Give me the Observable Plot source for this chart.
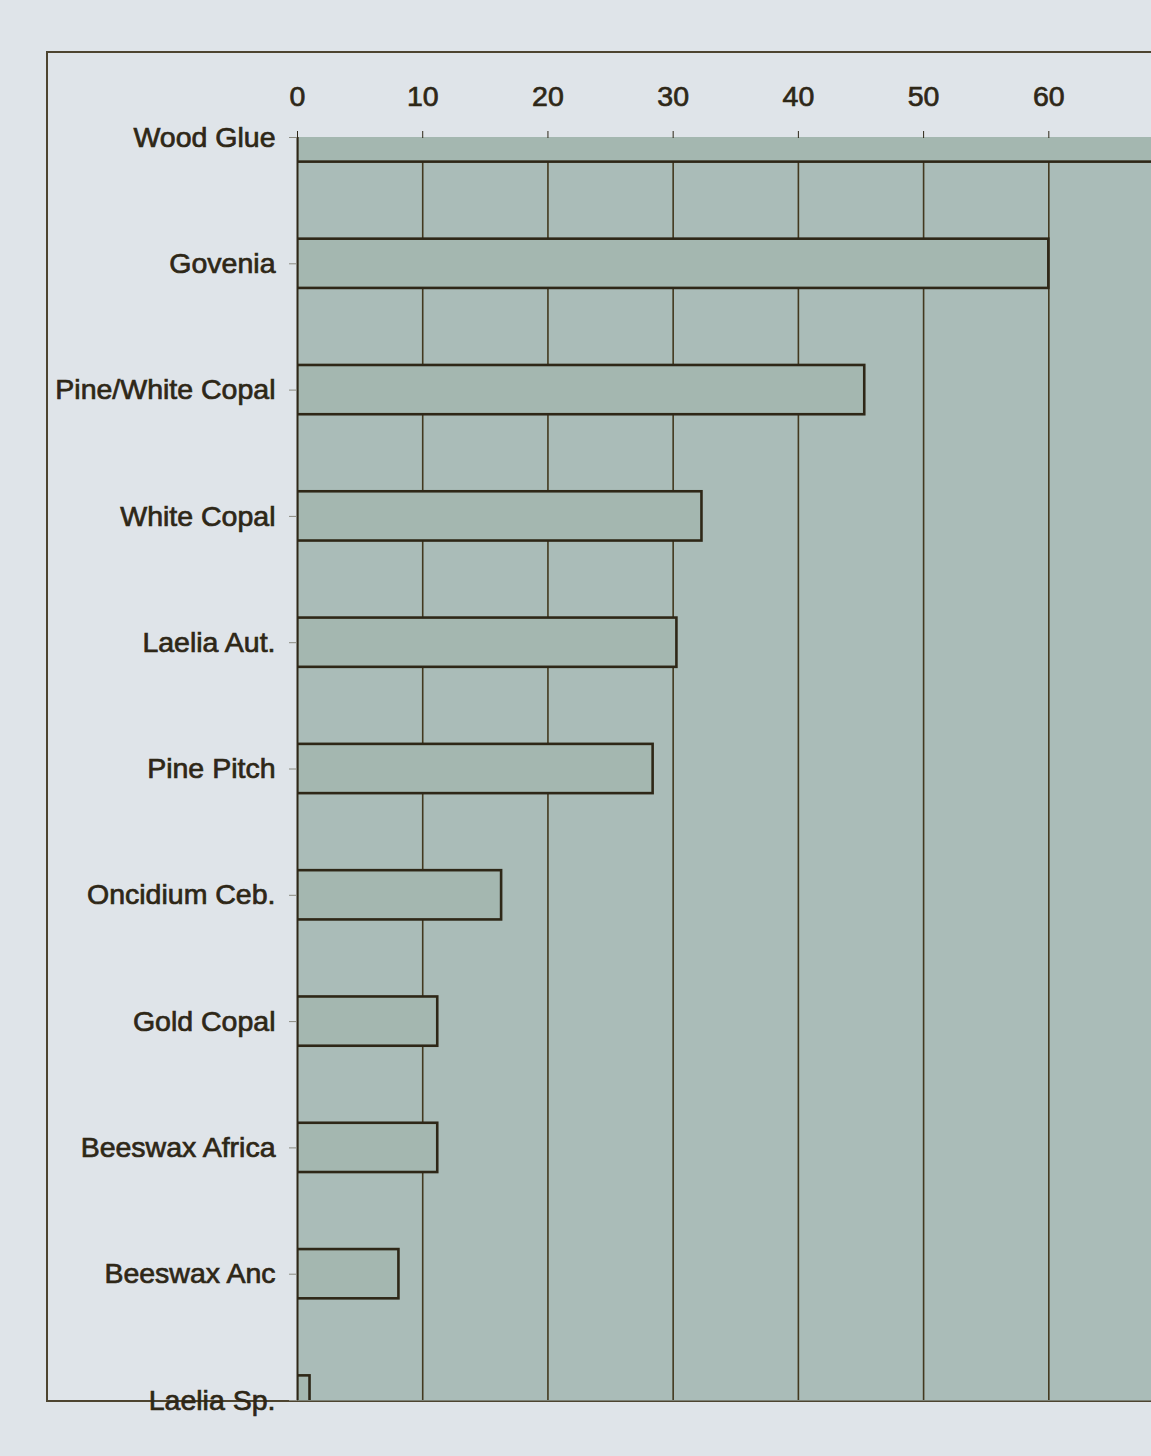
<!DOCTYPE html>
<html>
<head>
<meta charset="utf-8">
<script src="https://cdn.jsdelivr.net/npm/d3@7"></script>
<script src="https://cdn.jsdelivr.net/npm/@observablehq/plot@0.6"></script>
<style>
  html, body { margin: 0; padding: 0; background: #dfe4e9; overflow: hidden; }
  #wrap { position: relative; width: 1151px; height: 1456px; overflow: hidden; }
  #outer { position: absolute; left: 46px; top: 51px; width: 1200px; height: 1351px;
           border: 2px solid #4d4430; box-sizing: border-box; }
  #chart { position: absolute; left: 0; top: 0; }
  #chart svg text { stroke: #2e2717; stroke-width: 0.7px; paint-order: stroke; }
</style>
</head>
<body>
<div id="wrap"><div id="outer"></div><div id="chart"></div></div>
<script>
const categories = ["Wood Glue", "Govenia", "Pine/White Copal", "White Copal", "Laelia Aut.",
  "Pine Pitch", "Oncidium Ceb.", "Gold Copal", "Beeswax Africa", "Beeswax Anc", "Laelia Sp."];
const values = [72, 60, 45.3, 32.3, 30.3, 28.4, 16.3, 11.2, 11.2, 8.1, 1.0];
const xTicks = [0, 10, 20, 30, 40, 50, 60];
const xMax = 68.2;

const data = categories.map((c, i) => ({category: c, i, value: values[i]}));
const half = 0.195;
const ink = "#2e2717";

const chart = Plot.plot({
  width: 1151,
  height: 1456,
  marginLeft: 297,
  marginRight: 0,
  marginTop: 137,
  marginBottom: 56,
  style: {background: "transparent", fontFamily: "'Liberation Sans', Arial, sans-serif", fontSize: "28.5px", color: ink},
  x: {domain: [0, xMax], label: null},
  y: {domain: [0, categories.length - 1], reverse: true, label: null},
  marks: [
    Plot.frame({fill: "#aabcb8", stroke: null}),
    Plot.ruleX(xTicks.filter(d => d > 0), {stroke: "#43391f", strokeWidth: 1.6}),
    Plot.rect(data, {x1: 0, x2: "value", y1: d => d.i - half, y2: d => d.i + half,
      fill: "#a4b7b0", stroke: ink, strokeWidth: 2.6, clip: true}),
    Plot.ruleX([0], {stroke: ink, strokeWidth: 2}),
    Plot.axisX({anchor: "top", ticks: xTicks, tickSize: 7, tickPadding: 25, stroke: ink, fill: ink, label: null}),
    Plot.axisY({anchor: "left", ticks: d3.range(categories.length), tickFormat: i => categories[i],
      tickSize: 8, tickPadding: 14, stroke: "#8a8a80", fill: ink, label: null})
  ]
});
document.getElementById("chart").appendChild(chart);
</script>
</body>
</html>
